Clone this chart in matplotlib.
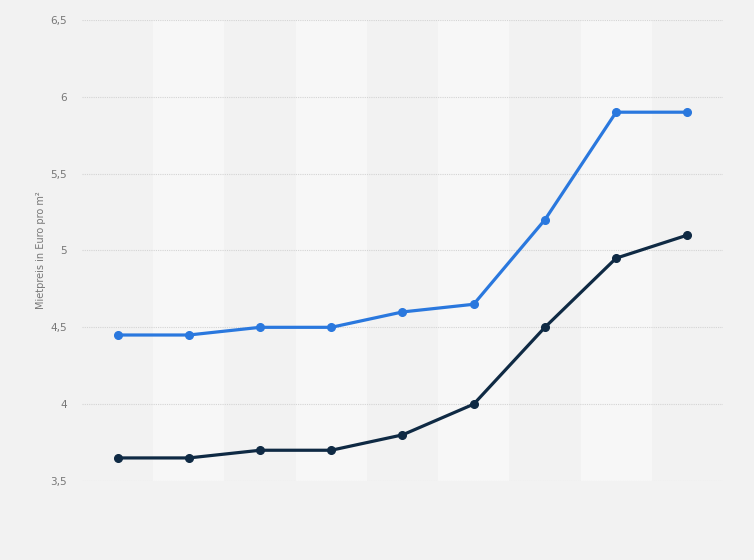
import numpy as np
import matplotlib.pyplot as plt

# nine periods, no labels shown on the x axis
periods = list(range(9))
blue_vals = [4.45, 4.45, 4.5, 4.5, 4.6, 4.65, 5.2, 5.9, 5.9]
dark_vals = [3.65, 3.65, 3.7, 3.7, 3.8, 4.0, 4.5, 4.95, 5.1]
yticks = [3.5, 4, 4.5, 5, 5.5, 6, 6.5]
ytick_labels = ['3,5', '4', '4,5', '5', '5,5', '6', '6,5']

bg = '#f2f2f2'
fig = plt.figure(figsize=(7.54, 5.6), dpi=100, facecolor=bg)
ax = fig.add_axes([0.1088, 0.1411, 0.85, 0.8232])
ax.set_facecolor(bg)

# alternating column bands
for i in periods:
    if i % 2 == 1:
        ax.axvspan(i - 0.5, i + 0.5, color='#f7f7f7', zorder=0, lw=0)

ax.plot(periods, blue_vals, '-o', color='#2a78de', lw=2.3, ms=5.5, zorder=3)
ax.plot(periods, dark_vals, '-o', color='#0f2a44', lw=2.3, ms=5.5, zorder=3)

ax.set_xlim(-0.5, 8.5)
ax.set_ylim(3.5, 6.5)
ax.set_yticks(yticks)
ax.set_yticklabels(ytick_labels, fontsize=7.5, color='#777777')
ax.set_xticks([])
ax.tick_params(axis='y', length=0, pad=11)
ax.grid(axis='y', color='#d4d4d4', linestyle=(0, (1, 1)), lw=0.8, zorder=1)
for s in ax.spines.values():
    s.set_visible(False)
ax.set_ylabel('Mietpreis in Euro pro m²', fontsize=7, color='#777777', labelpad=3)

plt.savefig('out.png', dpi=100, facecolor=bg)
